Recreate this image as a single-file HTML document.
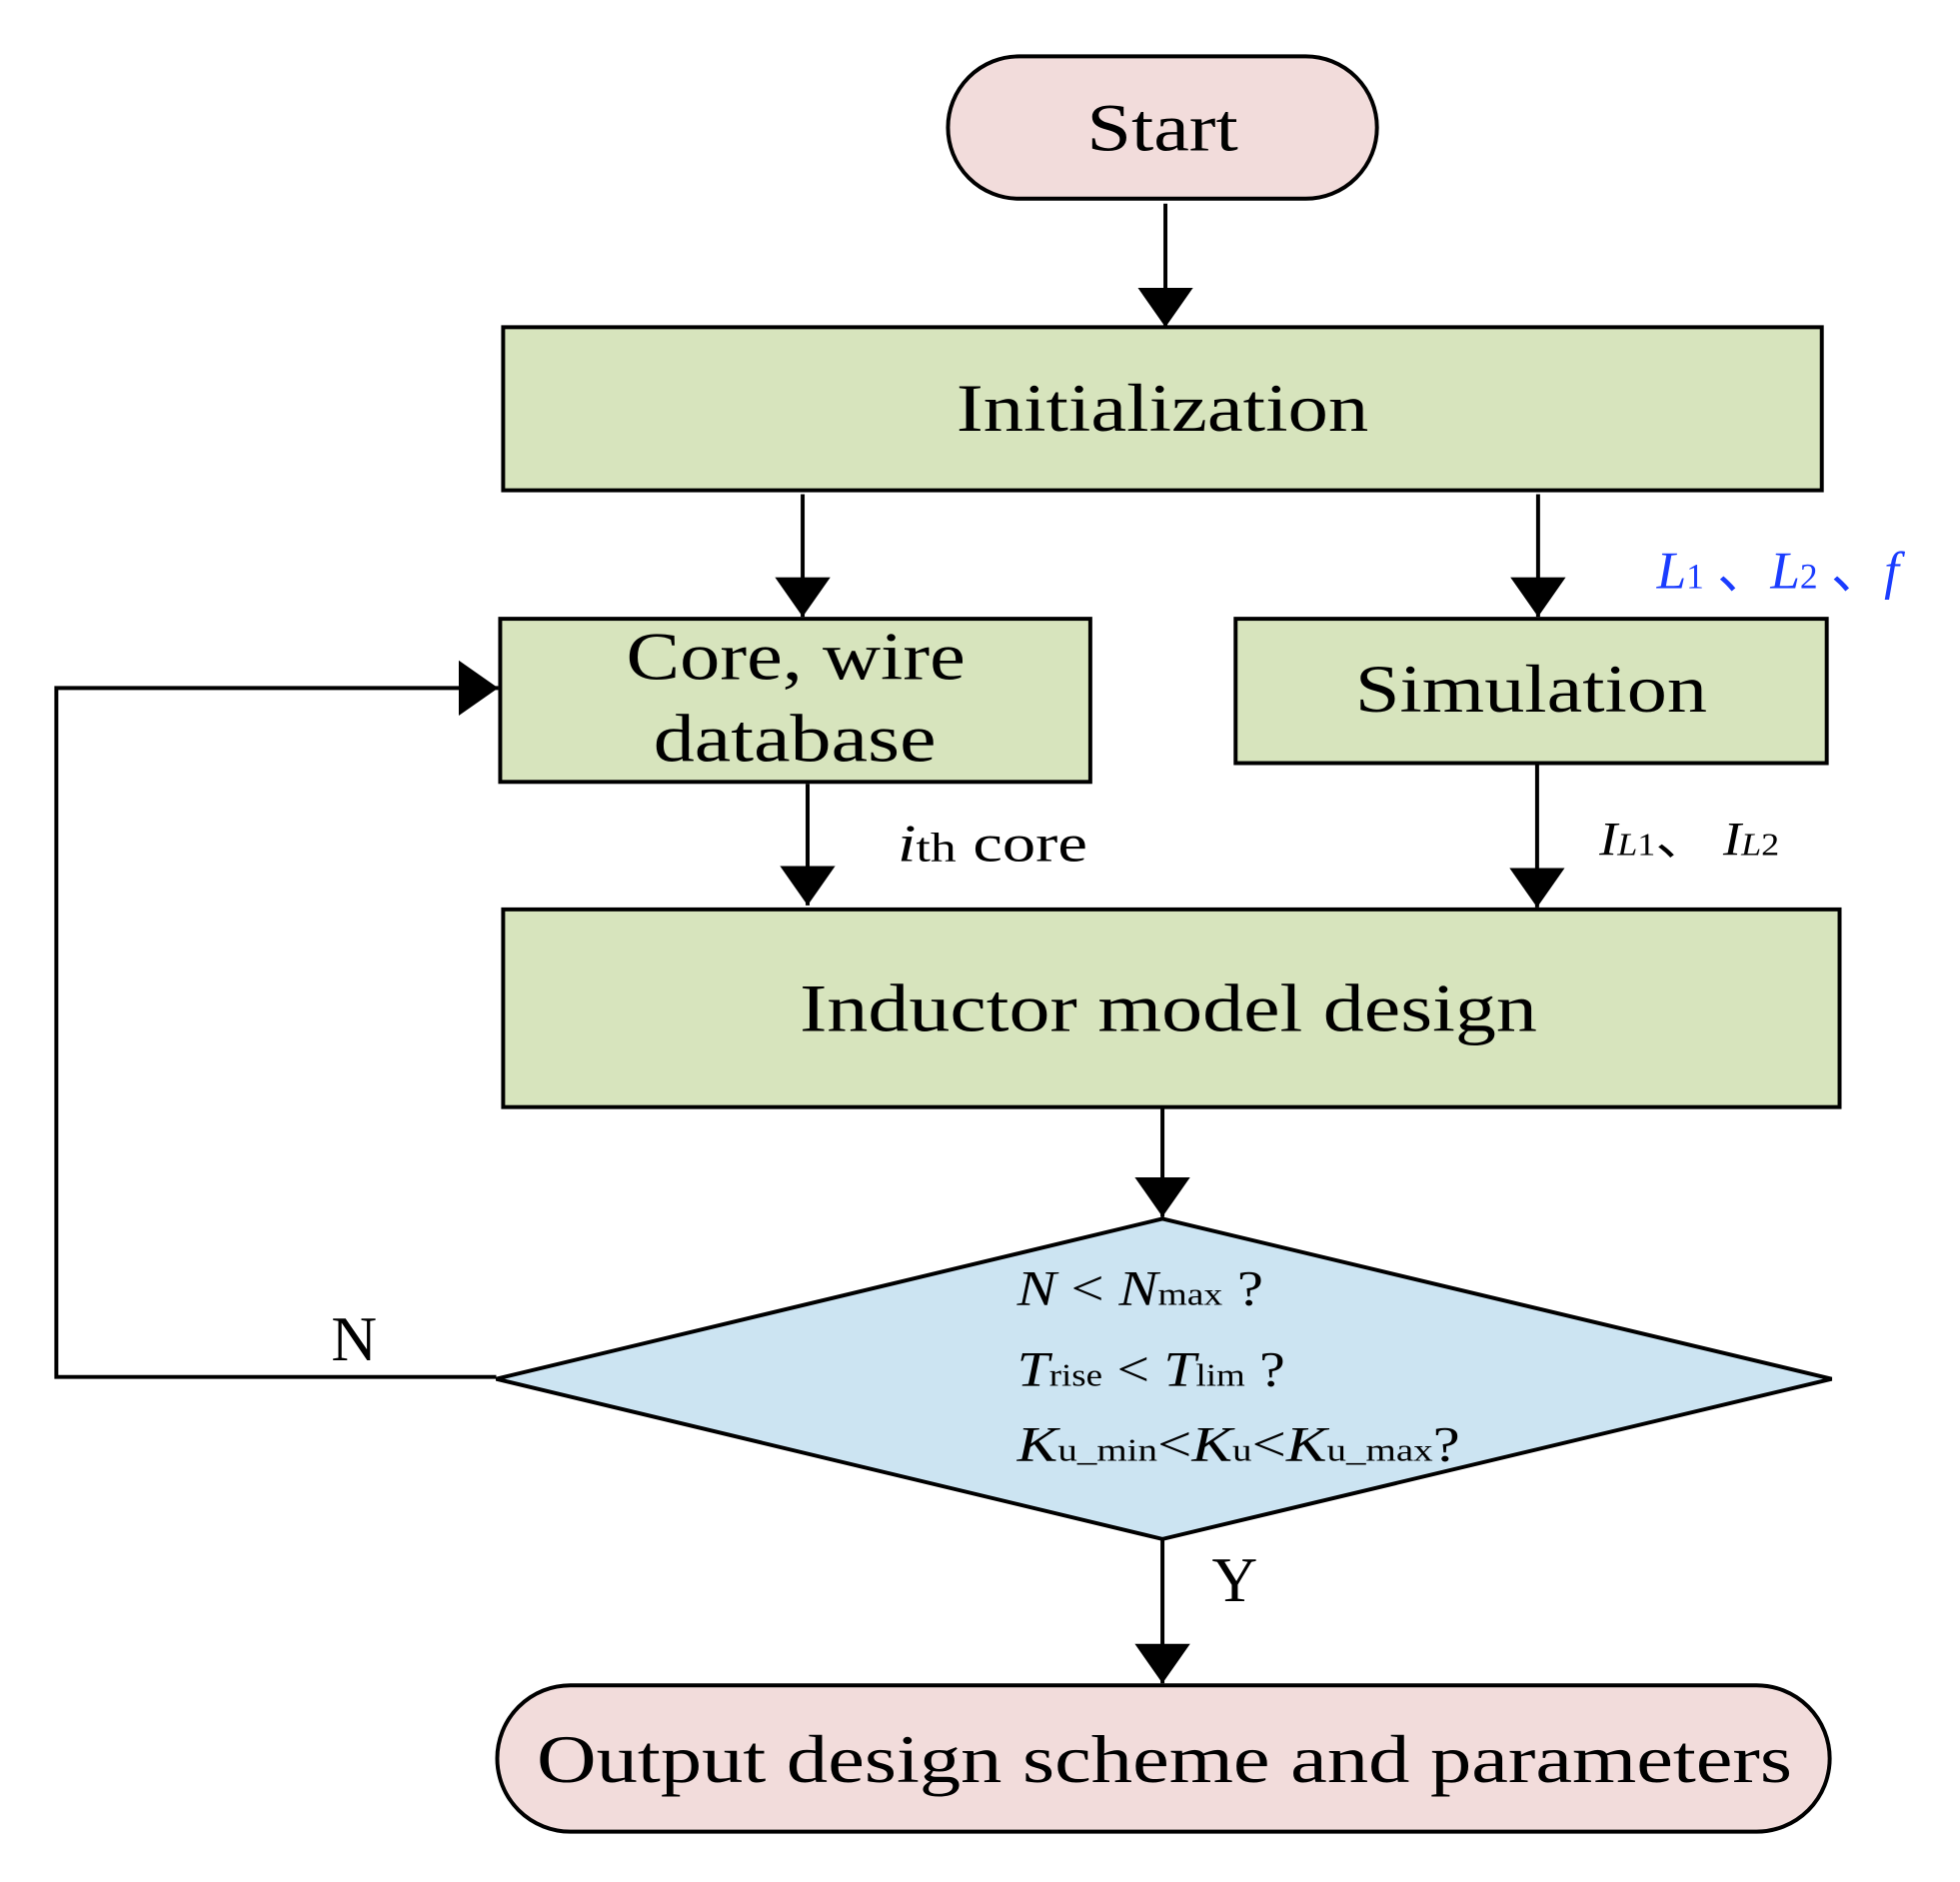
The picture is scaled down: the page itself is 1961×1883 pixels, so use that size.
<!DOCTYPE html>
<html><head><style>body{margin:0;background:#fff}svg{display:block}</style></head><body>
<svg width="1961" height="1883" viewBox="0 0 1961 1883" xmlns="http://www.w3.org/2000/svg" font-family="Liberation Serif, serif">
<defs>
<marker id="b" viewBox="0 0 10 10" refX="10" refY="5" markerWidth="40" markerHeight="56" orient="auto" markerUnits="userSpaceOnUse" preserveAspectRatio="none"><path d="M0,0 L10,5 L0,10 z" fill="#000"/></marker></defs>
<g transform="scale(0.989)">
<g stroke="#000" stroke-width="4">
<rect x="959" y="57" width="434" height="144" rx="72" fill="#f2dcdb"/>
<rect x="509" y="331" width="1334" height="165" fill="#d7e4bd"/>
<rect x="506" y="626" width="597" height="165" fill="#d7e4bd"/>
<rect x="1250" y="626" width="598" height="146" fill="#d7e4bd"/>
<rect x="509" y="920" width="1352" height="200" fill="#d7e4bd"/>
<polygon points="1176,1233 1853,1395 1176,1557 502,1395" fill="#cce4f2"/>
<rect x="503" y="1705" width="1348" height="148" rx="74" fill="#f2dcdb"/>
<g fill="none" stroke-width="4">
<line x1="1179" y1="206" x2="1179" y2="331" marker-end="url(#b)"/>
<line x1="812" y1="500" x2="812" y2="624" marker-end="url(#b)"/>
<line x1="1556" y1="500" x2="1556" y2="624" marker-end="url(#b)"/>
<line x1="817" y1="793" x2="817" y2="916" marker-end="url(#b)"/>
<line x1="1555" y1="772" x2="1555" y2="918" marker-end="url(#b)"/>
<line x1="1176" y1="1120" x2="1176" y2="1231" marker-end="url(#b)"/>
<line x1="1176" y1="1557" x2="1176" y2="1703" marker-end="url(#b)"/>
<polyline points="502,1393 57,1393 57,696 504,696" marker-end="url(#b)"/>
</g></g>
<g font-size="68" text-anchor="middle" fill="#000">
<text x="1176" y="152" textLength="153" lengthAdjust="spacingAndGlyphs">Start</text>
<text x="1176" y="436" textLength="417" lengthAdjust="spacingAndGlyphs">Initialization</text>
<text x="805" y="687" textLength="343" lengthAdjust="spacingAndGlyphs">Core, wire</text>
<text x="804" y="770" textLength="286" lengthAdjust="spacingAndGlyphs">database</text>
<text x="1549" y="720" textLength="356" lengthAdjust="spacingAndGlyphs">Simulation</text>
<text x="1182" y="1043" textLength="746" lengthAdjust="spacingAndGlyphs">Inductor model design</text>
<text x="1178" y="1803" textLength="1270" lengthAdjust="spacingAndGlyphs">Output design scheme and parameters</text>
</g>
<g font-size="54" fill="#000">
<text x="908" y="871" textLength="192" lengthAdjust="spacingAndGlyphs"><tspan font-style="italic">i</tspan><tspan font-size="42">th</tspan> core</text>
<text x="1618" y="865" font-size="48" textLength="182" lengthAdjust="spacingAndGlyphs"><tspan font-style="italic">I</tspan><tspan font-size="32" font-style="italic">L</tspan><tspan font-size="32">1</tspan>、 <tspan font-style="italic">I</tspan><tspan font-size="32" font-style="italic">L</tspan><tspan font-size="32">2</tspan></text>
<text x="1676" y="595" fill="#1a3cff" font-size="54" textLength="245" lengthAdjust="spacingAndGlyphs"><tspan font-style="italic">L</tspan><tspan font-size="36">1</tspan> 、<tspan font-style="italic">L</tspan><tspan font-size="36">2</tspan> 、<tspan font-style="italic">f</tspan></text>
<text x="335" y="1376" font-size="64">N</text>
<text x="1226" y="1620" font-size="64">Y</text>
<g font-size="50">
<text x="1029" y="1320" textLength="249" lengthAdjust="spacingAndGlyphs"><tspan font-style="italic">N</tspan> &lt; <tspan font-style="italic">N</tspan><tspan font-size="32">max</tspan> ?</text>
<text x="1029" y="1402" textLength="271" lengthAdjust="spacingAndGlyphs"><tspan font-style="italic">T</tspan><tspan font-size="32">rise</tspan> &lt; <tspan font-style="italic">T</tspan><tspan font-size="32">lim</tspan> ?</text>
<text x="1029" y="1478" textLength="448" lengthAdjust="spacingAndGlyphs"><tspan font-style="italic">K</tspan><tspan font-size="32">u_min</tspan>&lt;<tspan font-style="italic">K</tspan><tspan font-size="32">u</tspan>&lt;<tspan font-style="italic">K</tspan><tspan font-size="32">u_max</tspan>?</text>
</g></g>
</g>
</svg></body></html>
